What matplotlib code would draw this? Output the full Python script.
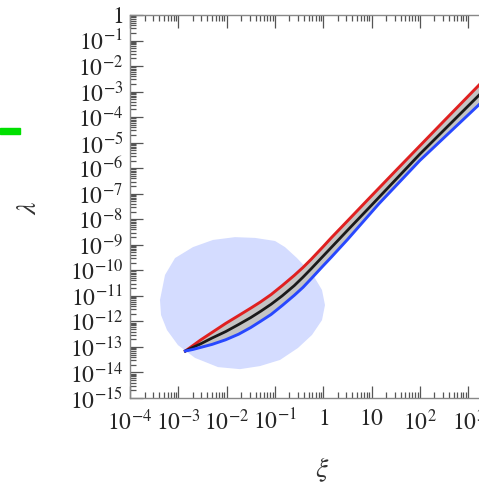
import matplotlib
matplotlib.use("Agg")
import matplotlib.pyplot as plt
import numpy as np
from matplotlib.patches import Rectangle
from matplotlib.ticker import LogLocator, NullFormatter

plt.rcParams['mathtext.fontset'] = 'stix'
plt.rcParams['font.family'] = ['Liberation Serif', 'DejaVu Serif']

# ---- data (log10 values) ----
red_logxi = [-2.854, -2.7, -2.54, -2.3, -2.02, -1.75, -1.5, -1.3, -1.08, -0.85, -0.6, -0.42,
             -0.25, 0.0, 0.17, 0.5, 0.94, 1.5, 2.5, 3.3]
red_loglam = [-13.16, -12.95, -12.73, -12.43, -12.08, -11.77, -11.48, -11.24, -10.95, -10.6,
              -10.2, -9.89, -9.57, -9.07, -8.72, -8.07, -7.2, -6.1, -4.15, -2.6]

black_logxi = [-2.854, -2.7, -2.54, -2.3, -2.02, -1.75, -1.5, -1.3, -1.08, -0.85, -0.6, -0.42,
               -0.25, 0.0, 0.17, 0.5, 1.0, 2.0, 3.3]
black_loglam = [-13.16, -13.02, -12.88, -12.65, -12.40, -12.12, -11.85, -11.61, -11.33, -11.0,
                -10.6, -10.27, -9.94, -9.44, -9.1, -8.44, -7.45, -5.45, -3.0]

blue_logxi = [-2.854, -2.7, -2.54, -2.3, -2.02, -1.75, -1.5, -1.3, -1.08, -0.85, -0.6, -0.42,
              -0.25, 0.0, 0.17, 0.5, 1.15, 2.0, 3.3]
blue_loglam = [-13.16, -13.10, -13.02, -12.9, -12.72, -12.5, -12.24, -12.0, -11.73, -11.38,
               -10.98, -10.67, -10.33, -9.82, -9.48, -8.8, -7.4, -5.7, -3.38]

# outline of the light-blue point cloud
cloud_logxi = [-3.379, -3.275, -3.068, -2.696, -2.282, -1.826, -1.412, -0.998, -0.791, -0.543,
               -0.211, -0.025, 0.037, -0.025, -0.232, -0.522, -0.894, -1.309, -1.723, -2.178,
               -2.654, -3.006, -3.234, -3.358]
cloud_loglam = [-11.16, -10.18, -9.52, -9.09, -8.81, -8.70, -8.73, -8.85, -9.09, -9.52,
                -10.18, -10.77, -11.36, -11.95, -12.53, -13.04, -13.51, -13.75, -13.87, -13.79,
                -13.43, -12.93, -12.34, -11.75]

x_ticks = [1e-4, 1e-3, 1e-2, 1e-1, 1, 10, 1e2, 1e3, 1e4]
x_ticklabels = [r'$10^{-4}$', r'$10^{-3}$', r'$10^{-2}$', r'$10^{-1}$', r'$1$', r'$10$',
                r'$10^{2}$', r'$10^{3}$', '']
y_ticks = [1, 1e-1, 1e-2, 1e-3, 1e-4, 1e-5, 1e-6, 1e-7, 1e-8, 1e-9, 1e-10,
           1e-11, 1e-12, 1e-13, 1e-14, 1e-15]
y_ticklabels = [r'$1$', r'$10^{-1}$', r'$10^{-2}$', r'$10^{-3}$', r'$10^{-4}$', r'$10^{-5}$',
                r'$10^{-6}$', r'$10^{-7}$', r'$10^{-8}$', r'$10^{-9}$', r'$10^{-10}$',
                r'$10^{-11}$', r'$10^{-12}$', r'$10^{-13}$', r'$10^{-14}$', r'$10^{-15}$']

fig = plt.figure(figsize=(4.79, 4.93), dpi=100)
ax = fig.add_axes([0.2714, 0.1927, 0.8067, 0.7769])
ax.set_xscale('log')
ax.set_yscale('log')
ax.set_xlim(1e-4, 1e4)
ax.set_ylim(1e-15, 1)

ax.fill(10 ** np.array(cloud_logxi), 10 ** np.array(cloud_loglam),
        color='#d4dcff', lw=0, zorder=1)

rx, ry = 10 ** np.array(red_logxi), 10 ** np.array(red_loglam)
kx, ky = 10 ** np.array(black_logxi), 10 ** np.array(black_loglam)
bx, by = 10 ** np.array(blue_logxi), 10 ** np.array(blue_loglam)

ax.fill(np.concatenate([rx, bx[::-1]]), np.concatenate([ry, by[::-1]]),
        color='#c4c4c4', lw=0, zorder=2)
ax.plot(rx, ry, color='#e02020', lw=2.1, zorder=3)
ax.plot(kx, ky, color='#1a1a1a', lw=2.0, zorder=3)
ax.plot(bx, by, color='#2848ff', lw=2.1, zorder=3)

ax.set_xticks(x_ticks)
ax.set_xticklabels(x_ticklabels)
ax.set_yticks(y_ticks)
ax.set_yticklabels(y_ticklabels)
ax.xaxis.set_minor_locator(LogLocator(base=10, subs=np.arange(2, 10), numticks=100))
ax.yaxis.set_minor_locator(LogLocator(base=10, subs=np.arange(2, 10), numticks=100))
ax.xaxis.set_minor_formatter(NullFormatter())
ax.yaxis.set_minor_formatter(NullFormatter())

ax.tick_params(which='both', direction='in', top=True, right=True,
               color='#555555', width=0.9, labelcolor='#262626')
ax.tick_params(which='major', length=9, labelsize=17)
ax.tick_params(which='minor', length=4.5)
ax.tick_params(axis='x', which='major', pad=8)
ax.tick_params(axis='y', which='major', pad=5)
for s in ax.spines.values():
    s.set_color('#888888')
    s.set_linewidth(1.0)

fig.text(30 / 479, 1 - 208 / 493, r'$\lambda$', rotation=90, fontsize=20,
         ha='center', va='center', color='#333333')
fig.text(322 / 479, 1 - 470 / 493, r'$\xi$', fontsize=20,
         ha='center', va='center', color='#333333')

fig.patches.append(Rectangle((0, 1 - 134 / 493), 20 / 479, 6 / 493,
                             transform=fig.transFigure, color='#00e000', zorder=5))

fig.savefig('out.png', dpi=100)
